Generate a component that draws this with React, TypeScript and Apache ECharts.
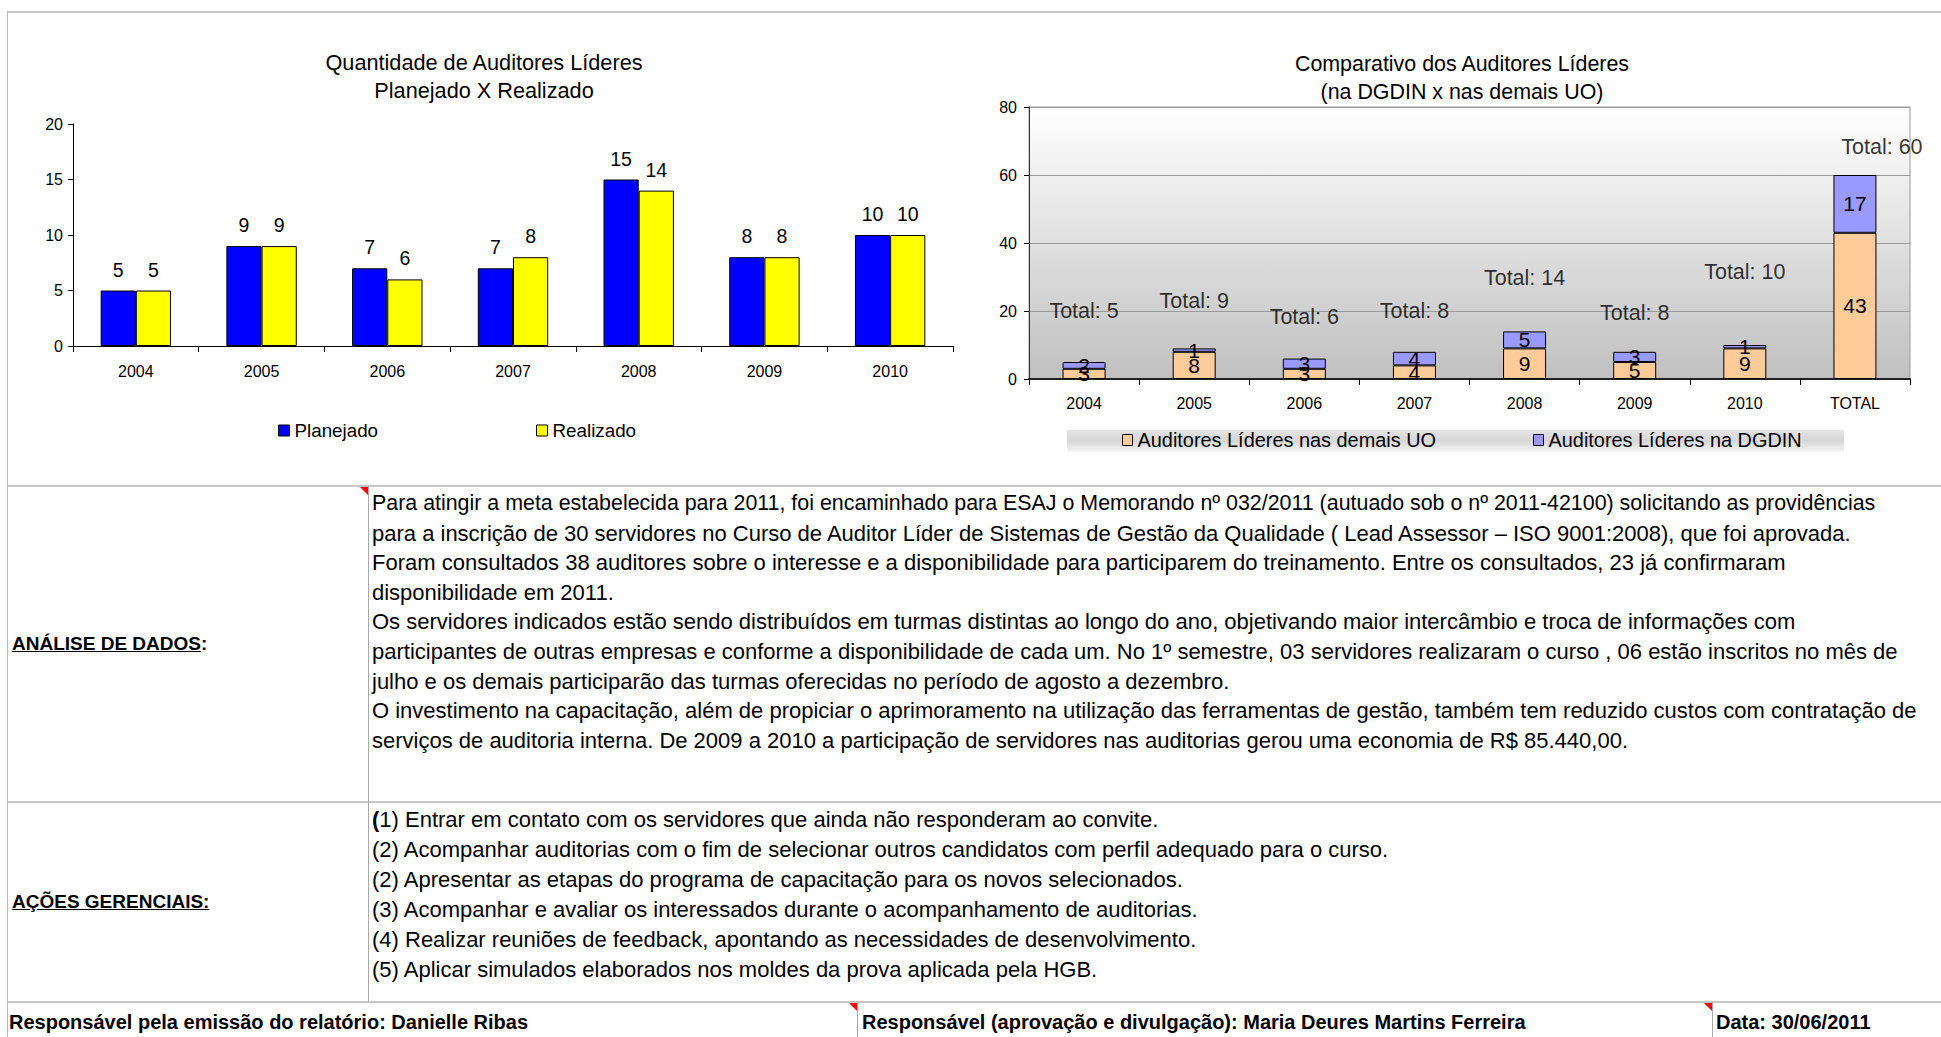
import React, { useEffect, useRef } from "react";
import * as echarts from "echarts";

// ---- data ----
const years = ["2004", "2005", "2006", "2007", "2008", "2009", "2010"];
const planejado = [5, 9, 7, 7, 15, 8, 10];
const realizado = [5, 9, 6, 8, 14, 8, 10];

const compCategories = ["2004", "2005", "2006", "2007", "2008", "2009", "2010", "TOTAL"];
const demaisUO = [3, 8, 3, 4, 9, 5, 9, 43];
const dgdin = [2, 1, 3, 4, 5, 3, 1, 17];
const totals = [5, 9, 6, 8, 14, 8, 10, 60];
// vertical placement (in axis units) of the "Total: N" annotations
const totalLabelY = [20, 22.9, 18.2, 20, 29.7, 19.4, 31.5, 68.2];

const leftTitle = ["Quantidade de Auditores Líderes", "Planejado X Realizado"];
const rightTitle = ["Comparativo dos Auditores Líderes", "(na DGDIN x nas demais UO)"];

const analiseLines = [
  "Para atingir a meta estabelecida para 2011, foi encaminhado para ESAJ o Memorando nº 032/2011 (autuado sob o nº 2011-42100) solicitando as providências",
  "para a inscrição de 30 servidores no Curso de Auditor Líder de Sistemas de Gestão da Qualidade ( Lead Assessor – ISO 9001:2008), que foi aprovada.",
  "Foram consultados 38 auditores sobre o interesse e a disponibilidade para participarem do treinamento. Entre os consultados, 23 já confirmaram",
  "disponibilidade em 2011.",
  "Os servidores indicados estão sendo distribuídos em turmas distintas ao longo do ano, objetivando maior intercâmbio e troca de informações com",
  "participantes de outras empresas e conforme a disponibilidade de cada um. No 1º semestre, 03 servidores realizaram o curso , 06 estão inscritos no mês de",
  "julho e os demais participarão das turmas oferecidas no período de agosto a dezembro.",
  "O investimento na capacitação, além de propiciar o aprimoramento na utilização das ferramentas de gestão, também tem reduzido custos com contratação de",
  "serviços de auditoria interna. De 2009 a 2010 a participação de servidores nas auditorias gerou uma economia de R$ 85.440,00.",
];

const acoesLines = [
  "1) Entrar em contato com os servidores que ainda não responderam ao convite.",
  "(2) Acompanhar auditorias com o fim de selecionar outros candidatos com perfil adequado para o curso.",
  "(2) Apresentar as etapas do programa de capacitação para os novos selecionados.",
  "(3) Acompanhar e avaliar os interessados durante o acompanhamento de auditorias.",
  "(4) Realizar reuniões de feedback, apontando as necessidades de desenvolvimento.",
  "(5) Aplicar simulados elaborados nos moldes da prova aplicada pela HGB.",
];

const FONT = "'Liberation Sans', Arial, sans-serif";

function Charts() {
  const ref = useRef<HTMLDivElement>(null);
  useEffect(() => {
    if (!ref.current) return;
    const chart = echarts.init(ref.current, null, { renderer: "svg" });
    const black = "#000";
    chart.setOption({
      animation: false,
      textStyle: { fontFamily: FONT, color: black },
      title: [
        {
          text: leftTitle.join("\n"),
          left: 484,
          top: 48,
          textAlign: "center",
          padding: 0,
          textStyle: { fontSize: 21.7, fontWeight: "normal", lineHeight: 28, color: black, fontFamily: FONT },
        },
        {
          text: rightTitle.join("\n"),
          left: 1462,
          top: 50,
          textAlign: "center",
          padding: 0,
          textStyle: { fontSize: 21.4, fontWeight: "normal", lineHeight: 28, color: black, fontFamily: FONT },
        },
      ],
      graphic: [
        {
          type: "rect",
          z: 0,
          shape: { x: 1067, y: 430, width: 777, height: 22 },
          style: {
            fill: new echarts.graphic.LinearGradient(0, 0, 0, 1, [
              { offset: 0, color: "#e4e4e4" },
              { offset: 0.5, color: "#d6d6d6" },
              { offset: 1, color: "#f6f6f6" },
            ]),
          },
          silent: true,
        },
      ],
      legend: [
        {
          data: ["Planejado", "Realizado"],
          left: 278,
          top: 421,
          padding: 0,
          icon: "rect",
          itemWidth: 11,
          itemHeight: 11,
          itemGap: 158,
          itemStyle: { borderColor: black, borderWidth: 1 },
          textStyle: { fontSize: 18.8, color: black, fontFamily: FONT },
        },
        {
          data: ["Auditores Líderes nas demais UO", "Auditores Líderes na DGDIN"],
          left: 1122,
          top: 430,
          padding: 0,
          icon: "rect",
          itemWidth: 10,
          itemHeight: 11,
          itemGap: 97,
          itemStyle: { borderColor: black, borderWidth: 1 },
          textStyle: { fontSize: 19.9, color: black, fontFamily: FONT },
        },
      ],
      grid: [
        { left: 73, top: 124, width: 880, height: 222 },
        {
          left: 1029,
          top: 107,
          width: 881,
          height: 272,
          show: true,
          borderColor: "#9a9a9a",
          borderWidth: 1,
          backgroundColor: new echarts.graphic.LinearGradient(0, 0, 0, 1, [
            { offset: 0, color: "#ffffff" },
            { offset: 1, color: "#c0c0c0" },
          ]),
        },
      ],
      xAxis: [
        {
          type: "category",
          gridIndex: 0,
          data: years,
          axisLine: { lineStyle: { color: black, width: 1 } },
          axisTick: { show: true, length: 6, lineStyle: { color: black } },
          axisLabel: { fontSize: 16, color: black, margin: 17, fontFamily: FONT },
        },
        {
          type: "category",
          gridIndex: 1,
          data: compCategories,
          axisLine: { lineStyle: { color: "#222", width: 2 } },
          axisTick: { show: true, length: 6, lineStyle: { color: black } },
          axisLabel: { fontSize: 16, color: black, margin: 16, fontFamily: FONT },
        },
      ],
      yAxis: [
        {
          type: "value",
          gridIndex: 0,
          min: 0,
          max: 20,
          interval: 5,
          axisLine: { show: true, lineStyle: { color: black } },
          axisTick: { show: true, length: 5, lineStyle: { color: black } },
          splitLine: { show: false },
          axisLabel: { fontSize: 16, color: black, margin: 10, fontFamily: FONT },
        },
        {
          type: "value",
          gridIndex: 1,
          min: 0,
          max: 80,
          interval: 20,
          axisLine: { show: true, lineStyle: { color: "#333" } },
          axisTick: { show: true, length: 5, lineStyle: { color: black } },
          splitLine: { show: true, lineStyle: { color: "#9a9a9a", width: 1 } },
          axisLabel: { fontSize: 16, color: black, margin: 12, fontFamily: FONT },
        },
      ],
      series: [
        {
          name: "Planejado",
          type: "bar",
          xAxisIndex: 0,
          yAxisIndex: 0,
          data: planejado,
          barGap: "0%",
          barCategoryGap: "44%",
          itemStyle: { color: "#0000ff", borderColor: black, borderWidth: 1 },
          label: { show: true, position: "top", distance: 11, fontSize: 19.5, color: black, fontFamily: FONT },
        },
        {
          name: "Realizado",
          type: "bar",
          xAxisIndex: 0,
          yAxisIndex: 0,
          data: realizado,
          barGap: "0%",
          barCategoryGap: "44%",
          itemStyle: { color: "#ffff00", borderColor: black, borderWidth: 1 },
          label: { show: true, position: "top", distance: 11, fontSize: 19.5, color: black, fontFamily: FONT },
        },
        {
          name: "Auditores Líderes nas demais UO",
          type: "bar",
          stack: "comp",
          xAxisIndex: 1,
          yAxisIndex: 1,
          data: demaisUO,
          barWidth: 43,
          itemStyle: { color: "#ffcc99", borderColor: black, borderWidth: 1 },
          label: { show: true, position: "inside", fontSize: 21, color: black, fontFamily: FONT },
        },
        {
          name: "Auditores Líderes na DGDIN",
          type: "bar",
          stack: "comp",
          xAxisIndex: 1,
          yAxisIndex: 1,
          data: dgdin,
          barWidth: 43,
          itemStyle: { color: "#9999ff", borderColor: black, borderWidth: 1 },
          label: { show: true, position: "inside", fontSize: 21, color: black, fontFamily: FONT },
        },
        {
          name: "Total",
          type: "scatter",
          xAxisIndex: 1,
          yAxisIndex: 1,
          symbolSize: 1,
          silent: true,
          itemStyle: { color: "rgba(0,0,0,0)" },
          data: totalLabelY.map((v, i) =>
            i === totalLabelY.length - 1 ? { value: v, label: { offset: [27, 0] } } : { value: v }
          ),
          label: {
            show: true,
            position: "inside",
            fontSize: 21.5,
            color: black,
            fontFamily: FONT,
            formatter: (p: any) => "Total: " + totals[p.dataIndex],
          },
          z: 5,
        },
      ],
    });
    return () => chart.dispose();
  }, []);
  return <div ref={ref} style={{ position: "absolute", left: 0, top: 0, width: 1941, height: 485 }} />;
}

const hLine = (top: number, left = 8, width = 1933) => (
  <div style={{ position: "absolute", left, top, width, height: 2, background: "#c6c6c6" }} />
);
const vLine = (left: number, top: number, height: number) => (
  <div style={{ position: "absolute", left, top, width: 1, height, background: "#a8a8a8" }} />
);
const redMark = (right: number, top: number) => (
  <div
    style={{
      position: "absolute",
      left: right - 8,
      top,
      width: 0,
      height: 0,
      borderTop: "8px solid #ff0000",
      borderLeft: "8px solid transparent",
    }}
  />
);

export default function App() {
  const textBase: React.CSSProperties = {
    position: "absolute",
    whiteSpace: "nowrap",
    fontFamily: FONT,
    color: "#000",
  };
  return (
    <div
      style={{
        position: "absolute",
        left: 0,
        top: 0,
        width: 1941,
        height: 1037,
        overflow: "hidden",
        background: "#fff",
        fontFamily: FONT,
      }}
    >
      <Charts />
      {/* frame */}
      {hLine(11)}
      <div style={{ position: "absolute", left: 7, top: 11, width: 1, height: 1026, background: "#b8b8b8" }} />
      {hLine(485)}
      {hLine(801)}
      {hLine(1001)}
      {vLine(368, 486, 515)}
      {vLine(857, 1002, 35)}
      {vLine(1712, 1002, 35)}
      {redMark(368, 487)}
      {redMark(857, 1003)}
      {redMark(1712, 1003)}

      {/* row labels */}
      <div style={{ ...textBase, left: 12, top: 633, fontSize: 19, fontWeight: "bold", lineHeight: "22px" }}>
        <span style={{ textDecoration: "underline" }}>ANÁLISE DE DADOS</span>:
      </div>
      <div style={{ ...textBase, left: 12, top: 891, fontSize: 19, fontWeight: "bold", lineHeight: "22px" }}>
        <span style={{ textDecoration: "underline" }}>AÇÕES GERENCIAIS:</span>
      </div>

      {/* analysis text */}
      <div style={{ ...textBase, left: 372, top: 489, fontSize: 22, lineHeight: "29.6px" }}>
        {analiseLines.map((l, i) => (
          <div key={i} style={i === 0 ? { fontSize: 21.4 } : undefined}>
            {l}
          </div>
        ))}
      </div>

      {/* actions text */}
      <div style={{ ...textBase, left: 372, top: 805, fontSize: 22, lineHeight: "30px" }}>
        {acoesLines.map((l, i) => (
          <div key={i}>
            {i === 0 ? <b>(</b> : null}
            {l}
          </div>
        ))}
      </div>

      {/* footer */}
      <div style={{ ...textBase, left: 9, top: 1010, fontSize: 20, fontWeight: "bold", lineHeight: "24px" }}>
        Responsável pela emissão do relatório: Danielle Ribas
      </div>
      <div style={{ ...textBase, left: 862, top: 1010, fontSize: 20, fontWeight: "bold", lineHeight: "24px" }}>
        Responsável (aprovação e divulgação): Maria Deures Martins Ferreira
      </div>
      <div style={{ ...textBase, left: 1716, top: 1010, fontSize: 20, fontWeight: "bold", lineHeight: "24px" }}>
        Data: 30/06/2011
      </div>
    </div>
  );
}
